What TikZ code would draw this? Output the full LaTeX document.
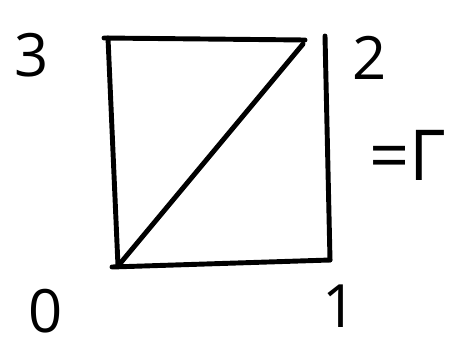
\documentclass[tikz,border=0pt]{standalone}
\usepackage{fontspec}
\setmainfont{Open Sans}
\usetikzlibrary{positioning}
\tikzset{
  edge/.style={line width=2.8pt, line cap=round, line join=round},
  lbl/.style={font=\fontsize{34}{38}\selectfont, inner sep=0pt},
}
\begin{document}
\begin{tikzpicture}[x=0.02cm,y=-0.02cm]
    \useasboundingbox (0,0) rectangle (459,345);
    % corners of the square
    \coordinate (v0) at (118,266);
    \coordinate (v0b) at (112,267);
    \coordinate (v1) at (330,260);
    \coordinate (v2) at (303,44);
    \coordinate (v2t) at (305,40);
    \coordinate (v2r) at (325,36);
    \coordinate (v3) at (108,38);
    \coordinate (v3t) at (104,38);
    % sides and diagonal
    \draw[edge] (v3) -- (v0);
    \draw[edge] (v3t) -- (v2t);
    \draw[edge] (v2r) -- (v1);
    \draw[edge] (v0b) -- (v1);
    \draw[edge] (v0) -- (v2);
    % labels
    \node[lbl] (l0) at (46,311) {0};
    \node[lbl] (l1) at (340,306) {1};
    \node[lbl] (l2) at (370,58) {2};
    \node[lbl] (l3) at (32,55) {3};
    \node[lbl, font=\fontsize{40}{44}\selectfont] (gam) at (408,155) {=Γ};
\end{tikzpicture}
\end{document}
